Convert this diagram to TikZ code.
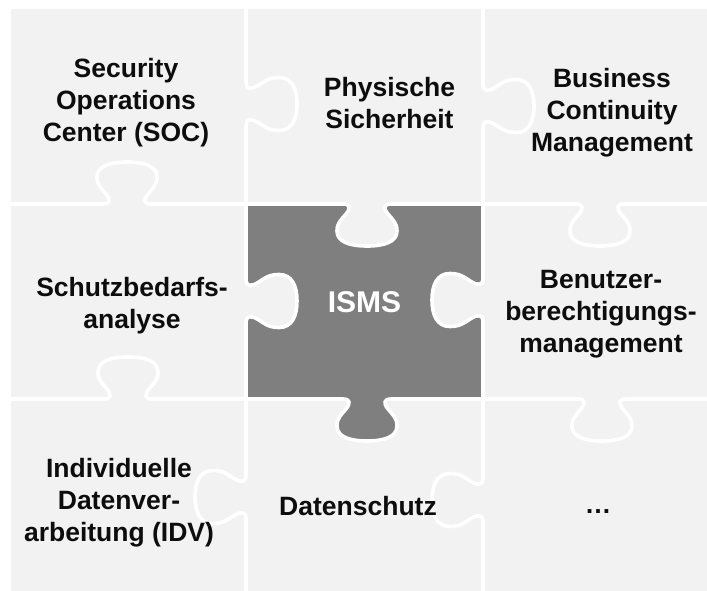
\documentclass[tikz,border=0pt]{standalone}
\usepackage{fontspec}
\setsansfont{Liberation Sans}
\usepackage{tikz}
\definecolor{PieceGray}{RGB}{242,242,242}
\definecolor{CoreGray}{RGB}{127,127,127}
\definecolor{TextBlack}{RGB}{13,13,13}

% knob on a horizontal cut: #1 centre x, #2 line y, #3 = 1 down / -1 up
\newcommand{\knobh}[3]{%
  -- ({#1-24},#2) .. controls ({#1-17},#2) and ({#1-16},{#2+4*(#3)}) .. ({#1-21},{#2+10*(#3)})
  .. controls ({#1-26},{#2+16*(#3)}) and ({#1-30},{#2+19*(#3)}) .. ({#1-30},{#2+27*(#3)})
  .. controls ({#1-30},{#2+38*(#3)}) and ({#1-17},{#2+42*(#3)}) .. (#1,{#2+42*(#3)})
  .. controls ({#1+17},{#2+42*(#3)}) and ({#1+30},{#2+38*(#3)}) .. ({#1+30},{#2+27*(#3)})
  .. controls ({#1+30},{#2+19*(#3)}) and ({#1+26},{#2+16*(#3)}) .. ({#1+21},{#2+10*(#3)})
  .. controls ({#1+16},{#2+4*(#3)}) and ({#1+17},#2) .. ({#1+24},#2)}
% knob on a vertical cut: #1 line x, #2 centre y, #3 = 1 right / -1 left
\newcommand{\knobv}[3]{%
  -- (#1,{#2-21}) .. controls (#1,{#2-15}) and ({#1+5*(#3)},{#2-14}) .. ({#1+12*(#3)},{#2-18.5})
  .. controls ({#1+19*(#3)},{#2-23}) and ({#1+23*(#3)},{#2-26.5}) .. ({#1+33*(#3)},{#2-26.5})
  .. controls ({#1+46*(#3)},{#2-26.5}) and ({#1+51*(#3)},{#2-15}) .. ({#1+51*(#3)},#2)
  .. controls ({#1+51*(#3)},{#2+15}) and ({#1+46*(#3)},{#2+26.5}) .. ({#1+33*(#3)},{#2+26.5})
  .. controls ({#1+23*(#3)},{#2+26.5}) and ({#1+19*(#3)},{#2+23}) .. ({#1+12*(#3)},{#2+18.5})
  .. controls ({#1+5*(#3)},{#2+14}) and (#1,{#2+15}) .. (#1,{#2+21})}

\begin{document}
\begin{tikzpicture}[x=1pt,y=-1pt,
  cutline/.style={white,line width=3.6pt,line join=round},
  piecetext/.style={align=center,inner sep=0pt,text=TextBlack,
    font=\sffamily\bfseries\fontsize{26.5}{32}\selectfont}]
\useasboundingbox (0,0) rectangle (707,591);
\fill[white] (0,0) rectangle (707,591);
\fill[PieceGray] (11,9) rectangle (707,591);
% centre piece
\fill[CoreGray] (246,204) rectangle (483,399);
\fill[PieceGray] (343,204) \knobh{367}{204}{1} -- cycle;
\fill[PieceGray] (246,280) \knobv{246}{301}{1} -- cycle;
\fill[PieceGray] (483,279) \knobv{483}{300}{-1} -- cycle;
\fill[CoreGray] (343,399) \knobh{367}{399}{1} -- cycle;
% cuts between the pieces
\draw[cutline] (246,0) \knobv{246}{104}{1} \knobv{246}{301}{1} \knobv{246}{497}{-1} -- (246,591);
\draw[cutline] (483,0) \knobv{483}{106}{1} \knobv{483}{300}{-1} \knobv{483}{500}{-1} -- (483,591);
\draw[cutline] (0,204) \knobh{127}{204}{-1} \knobh{367}{204}{1} \knobh{600}{204}{1} -- (707,204);
\draw[cutline] (0,399) \knobh{128}{399}{-1} \knobh{367}{399}{1} \knobh{602}{399}{1} -- (707,399);
% texts
\node[piecetext] (soc) at (126,103) {Security\\Operations\\Center (SOC)};
\node[piecetext] (physisch) at (389.5,103.5) {Physische\\Sicherheit};
\node[piecetext] (bcm) at (612,113) {Business\\Continuity\\Management};
\node[piecetext] (schutzbedarf) at (132,306) {Schutzbedarfs-\\analyse};
\node[piecetext,anchor=base,text=white,font=\sffamily\bfseries\fontsize{30}{36}\selectfont] (isms) at (364.5,312) {ISMS};
\node[piecetext] (berechtigung) at (601,314) {Benutzer-\\berechtigungs-\\management};
\node[piecetext] (idv) at (119,503) {Individuelle\\Datenver-\\arbeitung (IDV)};
\node[piecetext,anchor=base] (datenschutz) at (358,515) {Datenschutz};
\node[piecetext,anchor=base] (weitere) at (598,513) {…};
\end{tikzpicture}
\end{document}
